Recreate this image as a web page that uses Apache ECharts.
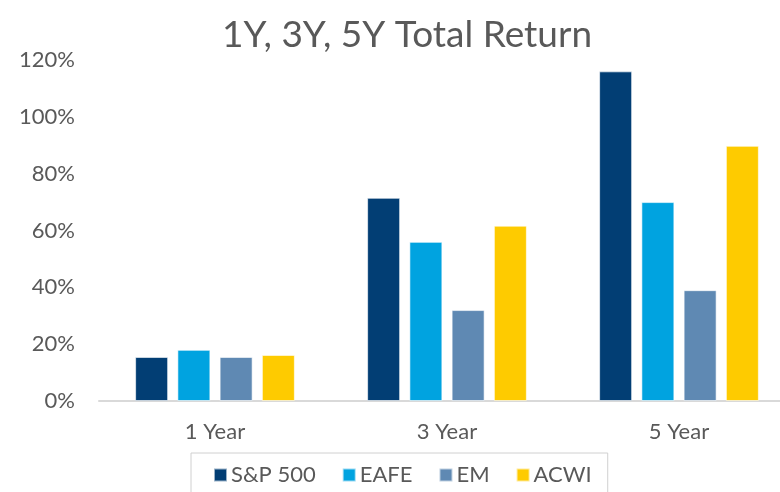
<!DOCTYPE html>
<html>
<head>
<meta charset="utf-8">
<script src="https://cdn.jsdelivr.net/npm/echarts@6/dist/echarts.min.js"></script>
<style>
  html, body { margin: 0; padding: 0; background: #fff; }
  #chart { width: 780px; height: 492px; }
</style>
</head>
<body>
<div id="chart"></div>
<script>
// categories and series values (percent)
const categories = ['1 Year', '3 Year', '5 Year']
const sp500 = [15.5, 71.5, 116]
const eafe = [18, 56, 70]
const em = [15.5, 32, 39]
const acwi = [16.2, 61.7, 89.8]
const seriesNames = ['S&P 500', 'EAFE', 'EM', 'ACWI']
const colors = ['#023e74', '#00a3e0', '#5f89b3', '#fecb00']

const chart = echarts.init(document.getElementById('chart'))
const font = 'Lato, "Open Sans", sans-serif'

const makeSeries = (name, data, i) => ({
  name: name,
  type: 'bar',
  data: data,
  barWidth: 33,
  barGap: '28%',
  itemStyle: {
    color: colors[i],
    borderColor: 'rgba(255,255,255,0.6)',
    borderWidth: 1
  },
  silent: true
})

const option = {
  animation: false,
  title: {
    text: '1Y, 3Y, 5Y Total Return',
    left: 402,
    textAlign: 'center',
    top: 12,
    textStyle: {
      fontFamily: font,
      fontSize: 37,
      fontWeight: 'normal',
      color: '#595959'
    }
  },
  grid: {
    left: 99,
    top: 60,
    width: 696,
    height: 341,
    outerBoundsMode: 'none'
  },
  legend: {
    data: seriesNames,
    left: 191,
    top: 453,
    padding: [11, 16, 30, 22],
    itemGap: 26,
    itemWidth: 13,
    itemHeight: 13,
    icon: 'rect',
    borderColor: '#d0d0d0',
    borderWidth: 1,
    textStyle: {
      fontFamily: font,
      fontSize: 22,
      color: '#595959',
      padding: [0, 0, 0, -1]
    }
  },
  xAxis: {
    type: 'category',
    data: categories,
    axisLine: { lineStyle: { color: '#d9d9d9', width: 2 } },
    axisTick: { show: false },
    axisLabel: {
      fontFamily: font,
      fontSize: 22,
      color: '#595959',
      margin: 20
    }
  },
  yAxis: {
    type: 'value',
    min: 0,
    max: 120,
    interval: 20,
    axisLine: { show: false },
    axisTick: { show: false },
    splitLine: { show: false },
    axisLabel: {
      formatter: '{value}%',
      fontFamily: font,
      fontSize: 22,
      color: '#595959',
      margin: 24
    }
  },
  series: [
    makeSeries(seriesNames[0], sp500, 0),
    makeSeries(seriesNames[1], eafe, 1),
    makeSeries(seriesNames[2], em, 2),
    makeSeries(seriesNames[3], acwi, 3)
  ]
}

chart.setOption(option)
</script>
</body>
</html>
